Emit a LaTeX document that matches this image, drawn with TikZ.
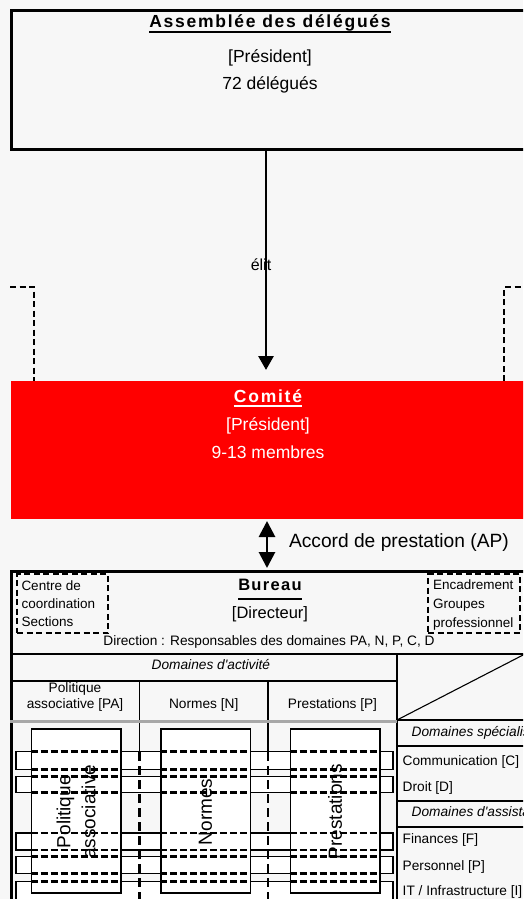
\documentclass[tikz,border=0pt]{standalone}
\usepackage{fontspec}
\setmainfont{Liberation Sans}[Ligatures=TeXOff]
\usetikzlibrary{arrows.meta}
\definecolor{bgc}{HTML}{F7F7F7}
\definecolor{redc}{HTML}{FF0000}
\definecolor{grayline}{HTML}{A8A8A8}
% underline: #1 = distance of rule top below baseline, #2 = thickness
\newcommand{\ulthick}[3]{\setbox0\hbox{#3}\rlap{\rule[-\dimexpr #1+#2\relax]{\wd0}{#2}}\box0}
\newcommand{\fsz}[1]{\fontsize{#1}{#1}\selectfont}
\begin{document}
\begin{tikzpicture}[x=1pt,y=-1pt,
  txt/.style={inner sep=0pt, outer sep=0pt, anchor=base},
  txtl/.style={inner sep=0pt, outer sep=0pt, anchor=base west},
  solidln/.style={line width=1.8pt},
  boxln/.style={line width=2.6pt},
  dashln/.style={line width=2.4pt, dash pattern=on 6pt off 3.5pt},
  banddash/.style={line width=2.6pt, dash pattern=on 7pt off 3pt},
  sepdash/.style={line width=2.6pt, dash pattern=on 9pt off 5pt},
  arr/.style={line width=2.8pt},
  bandbox/.style={line width=1.5pt, fill=white},
  colbox/.style={draw, line width=1.5pt, fill=white, minimum width=89.5pt, minimum height=164pt, anchor=north west, inner sep=0pt},
  vtext/.style={rotate=90, inner sep=0pt, align=center, font=\fontsize{19}{25}\selectfont},
]
\useasboundingbox (0,0) rectangle (523,899);
\clip (0,0) rectangle (523,899);
\fill[bgc] (0,0) rectangle (523,899);

% ---------- Assemblee
\node[draw, boxln, minimum width=530pt, minimum height=139pt, anchor=north west, inner sep=0pt] (assemb) at (10,9) {};
\node[txt] (assembT) at (270,27.5) {\fsz{17.5}\bfseries\addfontfeatures{LetterSpace=10}\ulthick{3.2pt}{2.2pt}{Assemblée des délégués}};
\node[txt] (assembP) at (270,62.5) {\fsz{17.5}[Président]};
\node[txt] (assembN) at (270,89) {\fsz{17.5}72 délégués};

% ---------- arrow elit
\coordinate (elitEnd) at (266,370);
\draw[arr,-{Triangle[width=15pt,length=14pt]}] (assemb.south -| elitEnd) -- (elitEnd);
\node[txt] (elit) at (261,270) {\fsz{16}élit};

% ---------- dashed brackets
\coordinate (bLa) at (10,287); \coordinate (bLb) at (34,287); \coordinate (bLc) at (34,381);
\coordinate (bRa) at (530,287); \coordinate (bRb) at (504,287); \coordinate (bRc) at (504,381);
\draw[dashln] (bLa) -- (bLb) -- (bLc);
\draw[dashln] (bRc) -- (bRb) -- (bRa);

% ---------- Comite
\node[fill=redc, minimum width=530pt, minimum height=138pt, anchor=north west, inner sep=0pt] (comite) at (11,381) {};
\node[txt, text=white] (comT) at (268,402) {\fsz{17.5}\bfseries\addfontfeatures{LetterSpace=10}\ulthick{3.2pt}{2.2pt}{Comité}};
\node[txt, text=white] (comP) at (268,430) {\fsz{17.5}[Président]};
\node[txt, text=white] (comN) at (268,458) {\fsz{17.5}9-13 membres};

% ---------- AP arrow
\coordinate (apTop) at (267,521);
\coordinate (apBot) at (267,568);
\draw[arr,{Triangle[width=16pt,length=16pt]}-{Triangle[width=16pt,length=16pt]}] (apTop) -- (apBot);
\node[txtl] (apLabel) at (289,547.5) {\fsz{19.2}Accord de prestation (AP)};

% ---------- Bureau
\node[draw, boxln, minimum width=530pt, minimum height=345pt, anchor=north west, inner sep=0pt] (bureau) at (10,570) {};
\node[draw, dashln, minimum width=91pt, minimum height=59pt, anchor=north west, inner sep=0pt] (centre) at (16,573) {};
\node[draw, dashln, minimum width=92pt, minimum height=59pt, anchor=north west, inner sep=0pt] (encad) at (427,573) {};
\node[txtl] at (21.5,590) {\fsz{13.5}Centre de};
\node[txtl] at (21.5,608.3) {\fsz{13.5}coordination};
\node[txtl] at (21.5,626.7) {\fsz{13.5}Sections};
\node[txtl] at (433,589) {\fsz{13.5}Encadrement};
\node[txtl] at (433,608) {\fsz{13.5}Groupes};
\node[txtl] at (433,627) {\fsz{13.5}professionnel};
\node[txt] (burT) at (270,590) {\fsz{16.5}\bfseries\addfontfeatures{LetterSpace=8}\ulthick{7.5pt}{2pt}{Bureau}};
\node[txt] (burD) at (270,618.3) {\fsz{16.5}[Directeur]};
\node[txt] (burDir) at (269,645) {\fsz{13.7}Direction : Responsables des domaines PA, N, P, C, D};

% ---------- table lines
\draw[solidln] (10,654) -- (540,654);
\draw[solidln] (397,654) -- (397,910);
\draw[solidln] (10,681) -- (397,681);
\draw[solidln] (139.5,681) -- (139.5,752);
\draw[solidln] (268,681) -- (268,752);
\draw[line width=3.2pt, grayline] (10,721.5) -- (397,721.5);
\draw[solidln] (397,720) -- (540,720);
\draw[solidln] (397,746) -- (540,746);
\draw[solidln] (397,801) -- (540,801);
\draw[solidln] (397,827) -- (540,827);
\draw[line width=1.1pt] (397,720) -- (525,654);

% header texts
\begin{scope}
\clip (10,655) rectangle (270,680);
\node[txtl] at (151.7,669) {\fsz{13.7}\itshape Domaines d'activité};
\end{scope}
\node[txt] at (75,692.3) {\fsz{13.7}Politique};
\node[txt] at (75,708.5) {\fsz{13.7}associative [PA]};
\node[txt] at (203.7,708.5) {\fsz{13.7}Normes [N]};
\node[txt] at (332.5,708.5) {\fsz{13.7}Prestations [P]};

% right column texts
\node[txtl] at (411.7,736.7) {\fsz{13.7}\itshape Domaines spécialisés};
\node[txtl] at (402.7,765) {\fsz{13.7}Communication [C]};
\node[txtl] at (402.7,791) {\fsz{13.7}Droit [D]};
\node[txtl] at (411.7,816.7) {\fsz{13.7}\itshape Domaines d'assistance};
\node[txtl] at (402.7,843.3) {\fsz{13.7}Finances [F]};
\node[txtl] at (402.7,870) {\fsz{13.7}Personnel [P]};
\node[txtl] at (402.7,895.7) {\fsz{13.7}IT / Infrastructure [I]};

% ---------- matrix: bands
\foreach \ya/\yb in {751.7/769.3, 776.7/792.7, 833/850, 856.7/873.3, 881.7/902}{
  \draw[bandbox] (16,\ya) rectangle (393,\yb);
}
% column boxes
\node[colbox] (colPA) at (30.7,728) {};
\node[colbox] (colN) at (160,728) {};
\node[colbox] (colP) at (289.5,728) {};
\foreach \c in {colPA,colN,colP}{
  \foreach \y in {751.7,769.3,776.7,792.7,833,850,856.7,873.3,881.7}{
    \draw[banddash] (\c.west |- 0,\y) -- (\c.east |- 0,\y);
  }
}
\draw[sepdash] (139.5,752) -- (139.5,905);
\draw[sepdash] (268,752) -- (268,905);
\node[vtext] at ([yshift=-1pt]colPA.center) {Politique\\associative};
\node[vtext] at ([yshift=-1pt]colN.center) {Normes};
\node[vtext] at ([yshift=-1pt]colP.center) {Prestations};
\end{tikzpicture}
\end{document}
